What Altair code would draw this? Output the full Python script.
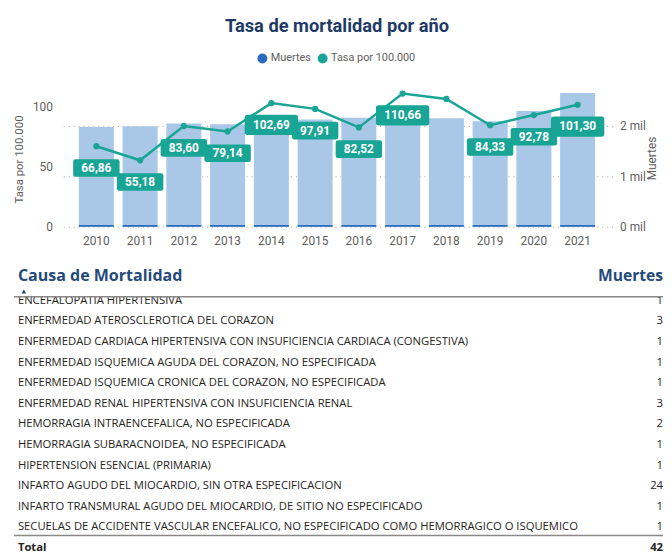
import altair as alt
import pandas as pd

# ---------------- data ----------------
anios = ["2010", "2011", "2012", "2013", "2014", "2015",
         "2016", "2017", "2018", "2019", "2020", "2021"]
muertes = [1975, 1990, 2045, 2030, 2180, 2120, 2155, 2195, 2145, 2090, 2290, 2645]
resaltado = [35, 35, 35, 35, 35, 35, 35, 35, 35, 35, 35, 35]
tasa = [66.86, 55.18, 83.60, 79.14, 102.69, 97.91, 82.52, 110.66, 106.2, 84.33, 92.78, 101.30]
tasa_etiquetas = ["66,86", "55,18", "83,60", "79,14", "102,69", "97,91",
                  "82,52", "110,66", "", "84,33", "92,78", "101,30"]
series = ["Muertes", "Tasa por 100.000"]
titulo_der = "Muertes"

causas = [
    "ENCEFALOPATIA HIPERTENSIVA",
    "ENFERMEDAD ATEROSCLEROTICA DEL CORAZON",
    "ENFERMEDAD CARDIACA HIPERTENSIVA CON INSUFICIENCIA CARDIACA (CONGESTIVA)",
    "ENFERMEDAD ISQUEMICA AGUDA DEL CORAZON, NO ESPECIFICADA",
    "ENFERMEDAD ISQUEMICA CRONICA DEL CORAZON, NO ESPECIFICADA",
    "ENFERMEDAD RENAL HIPERTENSIVA CON INSUFICIENCIA RENAL",
    "HEMORRAGIA INTRAENCEFALICA, NO ESPECIFICADA",
    "HEMORRAGIA SUBARACNOIDEA, NO ESPECIFICADA",
    "HIPERTENSION ESENCIAL (PRIMARIA)",
    "INFARTO AGUDO DEL MIOCARDIO, SIN OTRA ESPECIFICACION",
    "INFARTO TRANSMURAL AGUDO DEL MIOCARDIO, DE SITIO NO ESPECIFICADO",
    "SECUELAS DE ACCIDENTE VASCULAR ENCEFALICO, NO ESPECIFICADO COMO HEMORRAGICO O ISQUEMICO",
]
valores_visibles = ["1", "3", "1", "1", "1", "3", "2", "1", "1", "24", "1", "1"]
total_etiqueta = "Total"
total_visible = "42"

# ---------------- styles ----------------
teal = "#19a595"
bar_light = "#a9c7e6"
dark_blue = "#2a6cbf"
axis_gray = "#605e5c"
navy_title = "#1f3b63"
navy_head = "#1f4a79"
font_chart = "Roboto"
font_table = "Open Sans"

df = pd.DataFrame({
    "anio": anios,
    "muertes": muertes,
    "resaltado": resaltado,
    "tasa": tasa,
    "etiqueta": tasa_etiquetas,
    "serie": ["Muertes"] * len(anios),
})

x_enc = alt.X(
    "anio:N", sort=anios, title=None,
    scale=alt.Scale(paddingInner=0.2, paddingOuter=0.4),
    axis=alt.Axis(labelAngle=0, ticks=False, domain=False, labelPadding=9,
                  labelFontSize=12, labelColor=axis_gray, labelFont=font_chart),
)

eje_der = alt.Axis(
    orient="right", values=[0, 1000, 2000],
    labelExpr="format(datum.value / 1000, 'd') + ' mil'",
    grid=True, gridDash=[1, 4], gridColor="#a19f9d", gridWidth=1,
    ticks=False, domain=False, labelPadding=7, labelFontSize=12,
    labelColor=axis_gray, labelFont=font_chart, title=None,
)
escala_der = alt.Scale(domain=[0, 2680], nice=False)

eje_izq = alt.Axis(
    orient="left", values=[0, 50, 100], grid=False, ticks=False, domain=False,
    labelPadding=9, labelFontSize=12, labelColor=axis_gray, labelFont=font_chart,
    title="Tasa por 100.000", titleFontSize=11.5, titleFont=font_chart,
    titleFontWeight="normal", titleColor=axis_gray, titlePadding=8,
)
escala_izq = alt.Scale(domain=[0, 112.5], nice=False)

base = alt.Chart(df)

barras = base.mark_bar(color=bar_light).encode(
    x=x_enc, y=alt.Y("muertes:Q", scale=escala_der, axis=eje_der))

franja = base.mark_bar().encode(
    x=x_enc,
    y=alt.Y("resaltado:Q", scale=escala_der, axis=eje_der),
    color=alt.Color(
        "serie:N",
        scale=alt.Scale(domain=series, range=[dark_blue, teal]),
        legend=alt.Legend(
            orient="none", legendX=198, legendY=-39, direction="horizontal",
            title=None, symbolType="circle", symbolSize=100, symbolStrokeWidth=0,
            labelFontSize=11, labelColor=axis_gray, labelFont=font_chart,
            columnPadding=6, labelOffset=3,
        ),
    ),
)

capa_barras = alt.layer(barras, franja)

y_tasa = alt.Y("tasa:Q", scale=escala_izq, axis=eje_izq)

linea = base.mark_line(color=teal, strokeWidth=2.5).encode(x=x_enc, y=y_tasa)
puntos = base.mark_circle(color=teal, size=40, opacity=1).encode(x=x_enc, y=y_tasa)

caja_path = ("M -0.9 -0.38 L 0.9 -0.38 Q 1 -0.38 1 -0.28 L 1 0.28 Q 1 0.38 0.9 0.38 "
             "L -0.9 0.38 Q -1 0.38 -1 0.28 L -1 -0.28 Q -1 -0.38 -0.9 -0.38 Z")

cajas = base.transform_filter("datum.etiqueta != ''").transform_calculate(
    caja="pow(length(datum.etiqueta) * 7 + 12, 2)"
).mark_point(shape=caja_path, filled=True, color=teal, opacity=1,
             strokeWidth=0, yOffset=22).encode(
    x=x_enc, y=y_tasa, size=alt.Size("caja:Q", scale=None, legend=None))

textos = base.transform_filter("datum.etiqueta != ''").mark_text(
    color="white", fontWeight="bold", fontSize=12, font=font_chart,
    baseline="middle", yOffset=22).encode(x=x_enc, y=y_tasa, text="etiqueta:N")

titulo_eje_der = alt.Chart(pd.DataFrame({"t": [titulo_der]})).mark_text(
    angle=270, align="center", baseline="middle", fontSize=12, font=font_chart,
    color=axis_gray).encode(x=alt.value(598), y=alt.value(68), text="t:N")

capa_tasa = alt.layer(linea, puntos, cajas, textos, titulo_eje_der)

grafico = alt.layer(capa_barras, capa_tasa).resolve_scale(y="independent").properties(
    width=558, height=137,
    title=alt.TitleParams("Tasa de mortalidad por año", fontSize=18.5, font=font_chart,
                          fontWeight="bold", color=navy_title, anchor="middle", offset=54),
)

# ---------------- table ----------------
filas = causas + [total_etiqueta]
tabla = pd.DataFrame({
    "fila": filas,
    "valor": valores_visibles + [total_visible],
    "tipo": ["causa"] * len(causas) + ["total"],
})
TX = -44      # left text column (relative to plot origin)
TL = -48      # left end of the table rules
TW = 609      # right edge of the table
TH = 258.3    # table body height
y_fila = alt.Y("fila:N", sort=filas, axis=None, title=None,
               scale=alt.Scale(padding=0.2))
tbase = alt.Chart(tabla)

filas_txt = tbase.transform_filter("datum.tipo == 'causa'").mark_text(
    align="left", baseline="middle", font=font_table, fontSize=11.4, color="#252423"
).encode(x=alt.value(TX), y=y_fila, text="fila:N")
valores_txt = tbase.transform_filter("datum.tipo == 'causa'").mark_text(
    align="right", baseline="middle", font=font_table, fontSize=11.4, color="#252423"
).encode(x=alt.value(TW), y=y_fila, text="valor:N")
total_txt = tbase.transform_filter("datum.tipo == 'total'").mark_text(
    align="left", baseline="middle", font=font_table, fontSize=11.4, fontWeight="bold",
    color="#252423").encode(x=alt.value(TX), y=y_fila, text="fila:N")
total_val = tbase.transform_filter("datum.tipo == 'total'").mark_text(
    align="right", baseline="middle", font=font_table, fontSize=11.4, fontWeight="bold",
    color="#252423").encode(x=alt.value(TW), y=y_fila, text="valor:N")

uno = pd.DataFrame({"t": ["Causa de Mortalidad"]})
uno_m = pd.DataFrame({"t": ["Muertes"]})

tapa = alt.Chart(uno).mark_rect(color="white").encode(
    x=alt.value(TL), x2=alt.value(TW), y=alt.value(-13), y2=alt.value(-0.4))
linea_enc = alt.Chart(uno).mark_rule(color="#8a8886", strokeWidth=1.5).encode(
    x=alt.value(TL), x2=alt.value(TW), y=alt.value(0))
enc_causa = alt.Chart(uno).mark_text(
    align="left", baseline="middle", font=font_table, fontSize=16.2, fontWeight="bold",
    color=navy_head).encode(x=alt.value(TX), y=alt.value(-20.8), text="t:N")
enc_muertes = alt.Chart(uno_m).mark_text(
    align="right", baseline="middle", font=font_table, fontSize=15.8, fontWeight="bold",
    color=navy_head).encode(x=alt.value(TW), y=alt.value(-20.8), text="t:N")
flecha = alt.Chart(uno).mark_point(shape="triangle-up", filled=True, size=22,
                                   color=navy_head, opacity=1).encode(
    x=alt.value(TX + 6), y=alt.value(-5.5))
linea_total = alt.Chart(uno).mark_rule(color="#8a8886", strokeWidth=1.5).encode(
    x=alt.value(TL), x2=alt.value(TW), y=alt.value(241.5))

tabla_chart = alt.layer(
    filas_txt, valores_txt, tapa, linea_enc, enc_causa, enc_muertes, flecha,
    linea_total, total_txt, total_val,
).properties(width=TW, height=TH)

chart = alt.vconcat(grafico, tabla_chart, spacing=22).properties(
    padding={"left": 5, "top": 5, "right": 0, "bottom": 0}
).configure_view(stroke=None)

chart.save("out.html", embed_options={"renderer": "svg", "actions": False})
